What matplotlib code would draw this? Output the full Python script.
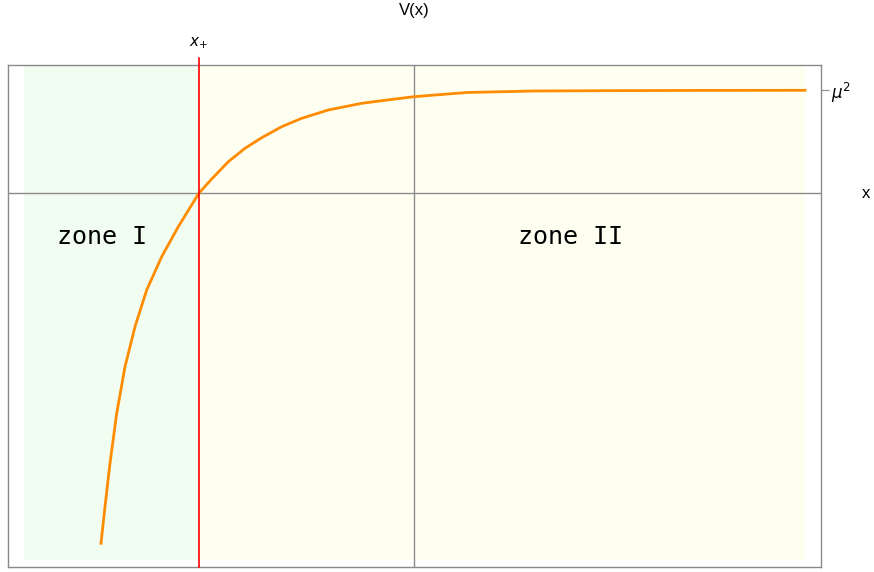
import matplotlib
matplotlib.use("Agg")
import matplotlib.pyplot as plt

# Curve V(x) (data units)
x_vals = [-3.13, -3.09, -3.04, -2.973, -2.89, -2.79, -2.673, -2.523, -2.357, -2.15,
          -2.023, -1.857, -1.69, -1.523, -1.323, -1.123, -0.857, -0.523, -0.19, 0.003,
          0.21, 0.53, 1.19, 1.86, 2.86, 3.91]
v_vals = [-3.503, -3.137, -2.703, -2.203, -1.737, -1.337, -0.97, -0.637, -0.337, 0.0,
          0.14, 0.313, 0.447, 0.553, 0.663, 0.747, 0.83, 0.897, 0.94, 0.963,
          0.98, 1.005, 1.02, 1.023, 1.026, 1.027]

x_plus = -2.15
mu2 = 1.03
region_left = -3.90
region_right = 3.91
region_bottom = -3.67
zone_labels = ["zone I", "zone II"]
zone_pos = [(-3.12, -0.44), (1.56, -0.44)]

W, H = 874, 572
fig = plt.figure(figsize=(W / 100, H / 100), dpi=100)
L, R, T, B = 8, 821, 65, 567
ax = fig.add_axes([L / W, (H - B) / H, (R - L) / W, (B - T) / H])
xmin, xmax = -4.06, 4.07
ymin, ymax = -3.74, 1.28
ax.set_xlim(xmin, xmax)
ax.set_ylim(ymin, ymax)

# shaded zones
ax.fill_between([region_left, x_plus], region_bottom, ymax, color="#F1FDF1", lw=0, zorder=0)
ax.fill_between([x_plus, region_right], region_bottom, ymax, color="#FFFFF1", lw=0, zorder=0)

# axes through origin
ax.axhline(0, color="#8a8a8a", lw=1.0, zorder=1)
ax.axvline(0, color="#8a8a8a", lw=1.0, zorder=1)

# curve
ax.plot(x_vals, v_vals, color="#FF8C00", lw=2.0, zorder=3, solid_joinstyle="round")

# red vertical line extending above the frame
ax.plot([x_plus, x_plus], [ymin, ymax + 0.07], color="#FF0000", lw=1.2, zorder=4, clip_on=False)
ax.text(x_plus, ymax + 0.14, r"$x_{+}$", ha="center", va="bottom", fontsize=11,
        family="DejaVu Sans")

for s in ax.spines.values():
    s.set_color("#8a8a8a")
    s.set_linewidth(1.0)

ax.set_xticks([])
ax.yaxis.tick_right()
ax.set_yticks([mu2])
ax.set_yticklabels([r"$\mu^2$"], fontsize=12)
ax.tick_params(axis="y", length=6, width=0.8, color="#8a8a8a", pad=1, left=False)

for lab, (px, py) in zip(zone_labels, zone_pos):
    ax.text(px, py, lab, family="DejaVu Sans Mono", fontsize=18, ha="center", va="center")

# axis labels
ax.text(0, ymax + 0.55, "V(x)", ha="center", va="center", fontsize=12,
        family="Liberation Sans", clip_on=False)
ax.text(4.52, 0, "x", ha="center", va="center", fontsize=12,
        family="Liberation Sans", clip_on=False)

fig.savefig("out.png", dpi=100)
